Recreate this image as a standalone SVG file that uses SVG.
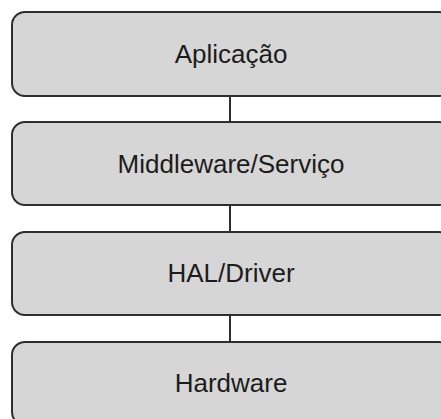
<svg xmlns="http://www.w3.org/2000/svg" width="441" height="419" viewBox="0 0 441 419">
  <style>
    .layer rect { fill: #d6d6d6; stroke: #2e2e2e; stroke-width: 2; }
    .layer text { font-family: "Liberation Sans", Arial, sans-serif; font-size: 26px; fill: #1c1c1c; text-anchor: middle; }
    .link { stroke: #2e2e2e; stroke-width: 2; fill: none; }
  </style>
  <rect width="441" height="419" fill="#ffffff"/>
  <g id="connectors">
    <line class="link" x1="230" y1="96" x2="230" y2="122"/>
    <line class="link" x1="230" y1="205" x2="230" y2="232"/>
    <line class="link" x1="230" y1="315" x2="230" y2="342"/>
  </g>
  <g id="aplicacao" class="layer">
    <rect x="12" y="12" width="440" height="84" rx="13"/>
    <text x="231" y="63">Aplicação</text>
  </g>
  <g id="middleware" class="layer">
    <rect x="12" y="122" width="440" height="83" rx="13"/>
    <text x="231" y="173">Middleware/Serviço</text>
  </g>
  <g id="hal" class="layer">
    <rect x="12" y="232" width="440" height="83" rx="13"/>
    <text x="231" y="282">HAL/Driver</text>
  </g>
  <g id="hardware" class="layer">
    <rect x="12" y="342" width="440" height="83" rx="13"/>
    <text x="231" y="392">Hardware</text>
  </g>
</svg>
